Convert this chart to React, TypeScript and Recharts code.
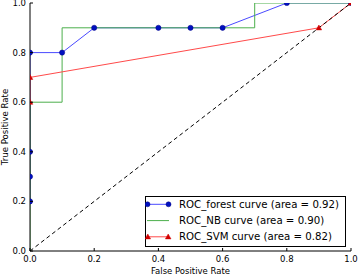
import React from 'react';
import { LineChart, Line, XAxis, YAxis, Legend } from 'recharts';

const FONT = '"DejaVu Sans", sans-serif';

const axisTicks = [0, 0.2, 0.4, 0.6, 0.8, 1.0];
const tickLabels = ['0.0', '0.2', '0.4', '0.6', '0.8', '1.0'];

const forestFpr = [0, 0, 0, 0, 0.1, 0.2, 0.4, 0.5, 0.6, 0.8, 1.0];
const forestTpr = [0.2, 0.3, 0.4, 0.8, 0.8, 0.9, 0.9, 0.9, 0.9, 1.0, 1.0];
const nbFpr = [0, 0, 0.1, 0.1, 0.7, 0.7, 1.0];
const nbTpr = [0, 0.6, 0.6, 0.9, 0.9, 1.0, 1.0];
const svmFpr = [0, 0, 0.9, 1.0];
const svmTpr = [0.6, 0.7, 0.9, 1.0];
const chanceFpr = [0, 1];
const chanceTpr = [0, 1];

const seriesNames = [
  'ROC_forest curve (area = 0.92)',
  'ROC_NB curve (area = 0.90)',
  'ROC_SVM curve (area = 0.82)',
];

const BLUE_LINE = '#4a4aff';
const BLUE_DOT = '#0010c0';
const GREEN = '#4caf4c';
const RED = '#ff4a4a';
const RED_DOT = '#d00000';

const zip = (xs: number[], ys: number[]) => xs.map((x, i) => ({ x, y: ys[i] }));

const forestData = zip(forestFpr, forestTpr);
const nbData = zip(nbFpr, nbTpr);
const svmData = zip(svmFpr, svmTpr);
const chanceData = zip(chanceFpr, chanceTpr);

const labelFor = (v: number) => {
  const i = axisTicks.indexOf(v);
  return i >= 0 ? tickLabels[i] : v.toFixed(1);
};

const BottomTick = (p: any) => (
  <g>
    <line x1={p.x} y1={p.y} x2={p.x} y2={p.y - 3} stroke="#000" strokeWidth={1} />
    <text x={p.x} y={p.y + 11} textAnchor="middle" fontSize={8.5} fontFamily={FONT} fill="#000">
      {labelFor(p.payload.value)}
    </text>
  </g>
);

const TopTick = (p: any) => (
  <line x1={p.x} y1={p.y} x2={p.x} y2={p.y + 3} stroke="#000" strokeWidth={1} />
);

const LeftTick = (p: any) => (
  <g>
    <line x1={p.x} y1={p.y} x2={p.x + 3} y2={p.y} stroke="#000" strokeWidth={1} />
    <text x={p.x - 4} y={p.y + 3} textAnchor="end" fontSize={8.5} fontFamily={FONT} fill="#000">
      {labelFor(p.payload.value)}
    </text>
  </g>
);

const RightTick = (p: any) => (
  <line x1={p.x} y1={p.y} x2={p.x - 3} y2={p.y} stroke="#000" strokeWidth={1} />
);

const Triangle = (p: any) => {
  const { cx, cy } = p;
  if (cx == null || cy == null) return null;
  const s = 2.8;
  return (
    <polygon
      key={`t-${p.index}`}
      points={`${cx},${cy - s} ${cx - s},${cy + s * 0.75} ${cx + s},${cy + s * 0.75}`}
      fill={RED_DOT}
      stroke={RED_DOT}
      strokeWidth={0.5}
    />
  );
};

const LegendBox = () => {
  const rows = [8.3, 24.6, 40.8];
  return (
    <svg width={202} height={52} style={{ display: 'block' }}>
      <rect x={0.5} y={0.5} width={200} height={50} fill="#fff" stroke="#000" strokeWidth={1} />
      <line x1={2} y1={rows[0]} x2={24} y2={rows[0]} stroke={BLUE_LINE} strokeWidth={1} />
      <circle cx={2.5} cy={rows[0]} r={2.5} fill={BLUE_DOT} stroke="#000080" strokeWidth={0.5} />
      <circle cx={23.5} cy={rows[0]} r={2.5} fill={BLUE_DOT} stroke="#000080" strokeWidth={0.5} />
      <line x1={2} y1={rows[1]} x2={24} y2={rows[1]} stroke={GREEN} strokeWidth={1} />
      <line x1={2} y1={rows[2]} x2={24} y2={rows[2]} stroke={RED} strokeWidth={1} />
      <Triangle cx={2.8} cy={rows[2]} index={0} />
      <Triangle cx={23.2} cy={rows[2]} index={1} />
      {seriesNames.map((n, i) => (
        <text key={n} x={34} y={rows[i] + 3.6} fontSize={10.2} fontFamily={FONT} fill="#000">
          {n}
        </text>
      ))}
    </svg>
  );
};

const XLabel = (props: any) => {
  const vb = props.viewBox || { x: 30, y: 251, width: 321, height: 25 };
  return (
    <text x={vb.x + vb.width / 2} y={vb.y + 23} textAnchor="middle" fontSize={8.5} fontFamily={FONT} fill="#000">
      False Positive Rate
    </text>
  );
};

const YLabel = (props: any) => {
  const vb = props.viewBox || { x: 0, y: 3, width: 30, height: 248 };
  const cx = 8.3;
  const cy = vb.y + vb.height / 2;
  return (
    <text
      x={cx}
      y={cy}
      transform={`rotate(-90 ${cx} ${cy})`}
      textAnchor="middle"
      fontSize={8.6}
      fontFamily={FONT}
      fill="#000"
    >
      True Positive Rate
    </text>
  );
};

export default function App() {
  return (
    <div style={{ position: 'absolute', left: 0, top: 0, width: 358, height: 276, background: '#fff' }}>
      <LineChart width={358} height={276} margin={{ top: 3, right: 7, bottom: 0, left: 0 }}>
        <XAxis
          xAxisId="b"
          type="number"
          dataKey="x"
          domain={[0, 1]}
          allowDataOverflow
          ticks={axisTicks}
          orientation="bottom"
          height={25}
          tickSize={0}
          tickMargin={0}
          tickLine={false}
          axisLine={{ stroke: '#000', strokeWidth: 1 }}
          tick={<BottomTick />}
          interval={0}
          label={<XLabel />}
        />
        <XAxis
          xAxisId="t"
          type="number"
          dataKey="x"
          domain={[0, 1]}
          allowDataOverflow
          ticks={axisTicks}
          orientation="top"
          height={0}
          tickSize={0}
          tickMargin={0}
          tickLine={false}
          axisLine={{ stroke: '#000', strokeWidth: 1 }}
          tick={<TopTick />}
          interval={0}
        />
        <YAxis
          yAxisId="l"
          type="number"
          dataKey="y"
          domain={[0, 1]}
          allowDataOverflow
          ticks={axisTicks}
          orientation="left"
          width={30}
          tickSize={0}
          tickMargin={0}
          tickLine={false}
          axisLine={{ stroke: '#000', strokeWidth: 1 }}
          tick={<LeftTick />}
          interval={0}
          label={<YLabel />}
        />
        <YAxis
          yAxisId="r"
          type="number"
          dataKey="y"
          domain={[0, 1]}
          allowDataOverflow
          ticks={axisTicks}
          orientation="right"
          width={0}
          tickSize={0}
          tickMargin={0}
          tickLine={false}
          axisLine={{ stroke: '#000', strokeWidth: 1 }}
          tick={<RightTick />}
          interval={0}
        />
        <Line
          xAxisId="b"
          yAxisId="l"
          data={forestData}
          dataKey="y"
          type="linear"
          stroke={BLUE_LINE}
          strokeWidth={1}
          dot={{ r: 2.6, fill: BLUE_DOT, stroke: '#000080', strokeWidth: 0.5 }}
          activeDot={false}
          isAnimationActive={false}
          name={seriesNames[0]}
        />
        <Line
          xAxisId="b"
          yAxisId="l"
          data={nbData}
          dataKey="y"
          type="linear"
          stroke={GREEN}
          strokeWidth={1}
          dot={false}
          activeDot={false}
          isAnimationActive={false}
          name={seriesNames[1]}
        />
        <Line
          xAxisId="b"
          yAxisId="l"
          data={svmData}
          dataKey="y"
          type="linear"
          stroke={RED}
          strokeWidth={1}
          dot={<Triangle />}
          activeDot={false}
          isAnimationActive={false}
          name={seriesNames[2]}
        />
        <Line
          xAxisId="b"
          yAxisId="l"
          data={chanceData}
          dataKey="y"
          type="linear"
          stroke="#000"
          strokeWidth={1}
          strokeDasharray="4 3"
          dot={false}
          activeDot={false}
          isAnimationActive={false}
          legendType="none"
        />
        <Legend
          layout="horizontal"
          verticalAlign="middle"
          align="center"
          content={<LegendBox />}
          wrapperStyle={{ position: 'absolute', left: 145, top: 196, width: 202, height: 52 }}
        />
      </LineChart>
    </div>
  );
}
